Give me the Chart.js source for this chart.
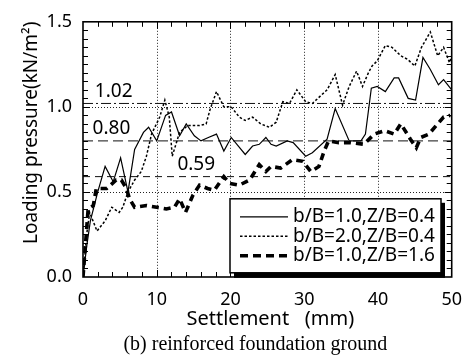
<!DOCTYPE html>
<html lang="en">
<head>
  <meta charset="UTF-8">
  <title>Loading pressure - reinforced foundation ground</title>
  <script src="https://cdn.jsdelivr.net/npm/chart.js"></script>
  <style>
    html, body { margin: 0; padding: 0; background: #fff; }
    canvas { display: block; }
  </style>
</head>
<body>
<canvas id="chart" width="474" height="364"></canvas>
<script>
  // [settlement (mm), pressure (kN/m2)]
  const solidB10Z04 = [[0,0],[0.5,0.18],[1,0.33],[2,0.5],[3,0.65],[4.1,0.56],[5.1,0.70],[6.1,0.50],[7,0.75],[8.2,0.85],[8.9,0.88],[10,0.80],[11.2,0.95],[12,0.97],[13.1,0.83],[14,0.90],[15.1,0.83],[16,0.80],[17,0.82],[18.1,0.84],[19.1,0.74],[20.1,0.82],[22,0.72],[23,0.77],[23.9,0.78],[24.8,0.82],[25.5,0.78],[26.2,0.77],[27.7,0.80],[28.5,0.79],[30.2,0.71],[31.1,0.73],[33.1,0.81],[34.2,0.99],[36.1,0.80],[37.7,0.80],[38.3,0.84],[39.1,1.11],[39.9,1.12],[41,1.09],[42.2,1.17],[42.8,1.17],[44.1,1.05],[45.1,1.04],[46.1,1.29],[47.1,1.22],[48.2,1.13],[48.9,1.16],[50,1.10]];
  const dottedB20Z04 = [[0,0],[0.5,0.25],[0.9,0.38],[1.9,0.27],[3,0.33],[3.9,0.41],[4.9,0.38],[5.4,0.41],[6.1,0.50],[7,0.57],[7.9,0.62],[8.6,0.71],[9.3,0.84],[10.4,0.94],[11.1,1.04],[11.7,0.94],[12.1,0.71],[13.1,0.85],[14.2,0.89],[15.8,0.89],[16.7,0.90],[17.2,0.98],[18.1,1.09],[19.1,1.00],[20.1,1.00],[21.2,0.94],[22,0.92],[23,0.94],[24.1,0.90],[25.3,0.88],[26.2,0.91],[27.1,1.03],[28,1.02],[29,1.10],[30.2,1.03],[31.1,1.02],[33.1,1.10],[34.2,1.19],[35.2,1.01],[36.1,1.12],[37.1,1.21],[37.9,1.12],[38.7,1.20],[39.2,1.24],[39.9,1.27],[41,1.36],[41.9,1.35],[43.1,1.30],[44,1.28],[45,1.24],[45.9,1.35],[47.1,1.44],[48.1,1.30],[48.9,1.35],[49.7,1.26],[50,1.30]];
  const dashedB10Z16 = [[0,0],[0.7,0.40],[1.4,0.42],[1.8,0.52],[3.2,0.52],[4.5,0.57],[5.2,0.57],[5.9,0.52],[6.3,0.46],[7,0.41],[8.6,0.42],[10,0.41],[11.3,0.40],[12.4,0.41],[13.1,0.46],[13.9,0.38],[14.9,0.48],[15.8,0.54],[16.9,0.52],[17.8,0.51],[19.1,0.59],[19.9,0.55],[21.2,0.54],[22.6,0.57],[23.9,0.66],[24.8,0.62],[25.5,0.65],[26.8,0.64],[28.4,0.69],[29.8,0.68],[30.9,0.62],[32,0.65],[32.7,0.74],[33.3,0.80],[34.7,0.79],[36.3,0.79],[38.1,0.78],[39.5,0.84],[40.9,0.86],[42.2,0.84],[43.1,0.90],[44.4,0.81],[45.2,0.76],[45.8,0.82],[46.9,0.84],[47.9,0.89],[48.9,0.94],[49.8,0.95]];

  const legendLabels = ['b/B=1.0,Z/B=0.4', 'b/B=2.0,Z/B=0.4', 'b/B=1.0,Z/B=1.6'];
  const refValues = [1.02, 0.80, 0.59];
  const refLabels = ['1.02', '0.80', '0.59'];
  const refLabelAt = [1.6, 1.3, 12.8];   // x (mm) where each label starts
  const xTicks = [0, 10, 20, 30, 40, 50];
  const yTicks = [0, 0.5, 1.0, 1.5];

  const xTitle = 'Settlement   (mm)';
  const yTitle = 'Loading pressure(kN/m\u00b2)';
  const caption = '(b) reinforced foundation ground';

  const SANS = '"Noto Sans", "DejaVu Sans", sans-serif';
  const toXY = arr => arr.map(p => ({ x: p[0], y: p[1] }));

  const seriesStyles = [
    { borderWidth: 1.2, borderDash: [] },
    { borderWidth: 1.5, borderDash: [2.5, 2] },
    { borderWidth: 3.6, borderDash: [7, 5] }
  ];
  const refDashes = [[10, 3, 2, 3], [10, 5], [7, 5]];

  const datasets = [solidB10Z04, dottedB20Z04, dashedB10Z16].map((d, i) => ({
    label: legendLabels[i],
    data: toXY(d),
    borderColor: '#000',
    borderWidth: seriesStyles[i].borderWidth,
    borderDash: seriesStyles[i].borderDash,
    pointRadius: 0,
    tension: 0,
    fill: false
  }));
  refValues.forEach((v, i) => {
    datasets.push({
      label: 'ref ' + refLabels[i],
      data: [{ x: 0, y: v }, { x: 50, y: v }],
      borderColor: '#111',
      borderWidth: 1,
      borderDash: refDashes[i],
      pointRadius: 0
    });
  });

  // grid, frame, inward ticks, labels and the boxed legend
  const decorations = {
    id: 'decorations',
    beforeDatasetsDraw(chart) {
      const { ctx, chartArea: a, scales: { x, y } } = chart;
      ctx.save();
      ctx.strokeStyle = '#222';
      ctx.lineWidth = 1;
      ctx.setLineDash([1, 2]);
      xTicks.slice(1, -1).forEach(v => {
        const px = Math.round(x.getPixelForValue(v)) + 0.5;
        ctx.beginPath(); ctx.moveTo(px, a.top); ctx.lineTo(px, a.bottom); ctx.stroke();
      });
      yTicks.slice(1, -1).forEach(v => {
        const py = Math.round(y.getPixelForValue(v)) + 0.5;
        ctx.beginPath(); ctx.moveTo(a.left, py); ctx.lineTo(a.right, py); ctx.stroke();
      });
      ctx.restore();
    },
    afterDatasetsDraw(chart) {
      const { ctx, chartArea: a, scales: { x, y } } = chart;
      ctx.save();
      ctx.setLineDash([]);
      ctx.strokeStyle = '#000';

      // inward ticks on all four sides
      ctx.lineWidth = 1;
      for (let v = 2; v < 50; v += 2) {
        const px = Math.round(x.getPixelForValue(v)) + 0.5;
        const len = v % 10 === 0 ? 7 : 5;
        ctx.beginPath();
        ctx.moveTo(px, a.bottom); ctx.lineTo(px, a.bottom - len);
        ctx.moveTo(px, a.top); ctx.lineTo(px, a.top + len);
        ctx.stroke();
      }
      for (let k = 1; k < 30; k++) {
        const py = Math.round(y.getPixelForValue(k * 0.05)) + 0.5;
        const len = k % 10 === 0 ? 7 : 5;
        ctx.beginPath();
        ctx.moveTo(a.left, py); ctx.lineTo(a.left + len, py);
        ctx.moveTo(a.right, py); ctx.lineTo(a.right - len, py);
        ctx.stroke();
      }

      // frame
      ctx.lineWidth = 1.6;
      ctx.strokeRect(a.left, a.top, a.right - a.left, a.bottom - a.top);

      // reference labels
      ctx.fillStyle = '#000';
      ctx.font = '19px ' + SANS;
      ctx.textAlign = 'left';
      ctx.textBaseline = 'middle';
      refValues.forEach((v, i) => {
        ctx.fillText(refLabels[i], x.getPixelForValue(refLabelAt[i]), y.getPixelForValue(v) - 12);
      });

      // legend box with drop shadow
      const bx = a.left + 147, by = a.top + 177, bw = 211, bh = 74;
      ctx.fillStyle = '#000';
      ctx.fillRect(bx + 4, by + 4, bw, bh + 1);
      ctx.fillStyle = '#fff';
      ctx.fillRect(bx, by, bw, bh);
      ctx.lineWidth = 1.5;
      ctx.strokeRect(bx, by, bw, bh);
      legendLabels.forEach((lab, i) => {
        const ry = by + 18 + i * 19.5;
        const st = seriesStyles[i];
        ctx.save();
        ctx.lineWidth = st.borderWidth;
        ctx.setLineDash(i === 2 ? [8, 5] : st.borderDash);
        ctx.beginPath(); ctx.moveTo(bx + 10, ry); ctx.lineTo(bx + 58, ry); ctx.stroke();
        ctx.restore();
        ctx.fillStyle = '#000';
        ctx.font = '19px ' + SANS;
        ctx.textBaseline = 'middle';
        ctx.fillText(lab, bx + 63, ry);
      });

      // axis titles and caption
      ctx.textAlign = 'center';
      ctx.textBaseline = 'middle';
      ctx.font = '20px ' + SANS;
      ctx.fillText(xTitle, (a.left + a.right) / 2 + 3, a.bottom + 42);
      ctx.font = '20px "Liberation Serif", "DejaVu Serif", serif';
      ctx.fillText(caption, (a.left + a.right) / 2 - 12, a.bottom + 68);
      ctx.save();
      ctx.translate(32, a.top + 111);
      ctx.rotate(-Math.PI / 2);
      ctx.font = '19px ' + SANS;
      ctx.fillText(yTitle, 0, 0);
      ctx.restore();
      ctx.restore();
    }
  };

  new Chart(document.getElementById('chart'), {
    type: 'line',
    data: { datasets },
    options: {
      responsive: false,
      animation: false,
      parsing: true,
      layout: { padding: { top: 14, right: 21, left: 0, bottom: 0 } },
      plugins: { legend: { display: false }, tooltip: { enabled: false } },
      scales: {
        x: {
          type: 'linear',
          min: 0, max: 50,
          grid: { display: false, drawTicks: false, tickLength: 0 },
          border: { display: false },
          ticks: { stepSize: 10, padding: 12, color: '#000', font: { family: SANS, size: 18 } },
          afterFit: s => { s.height = 87; }
        },
        y: {
          min: 0, max: 1.5,
          grid: { display: false, drawTicks: false, tickLength: 0 },
          border: { display: false },
          ticks: { stepSize: 0.5, padding: 11, color: '#000', font: { family: SANS, size: 18 },
                   callback: v => v.toFixed(1) },
          afterFit: s => { s.width = 83; }
        }
      }
    },
    plugins: [decorations]
  });
</script>
</body>
</html>
